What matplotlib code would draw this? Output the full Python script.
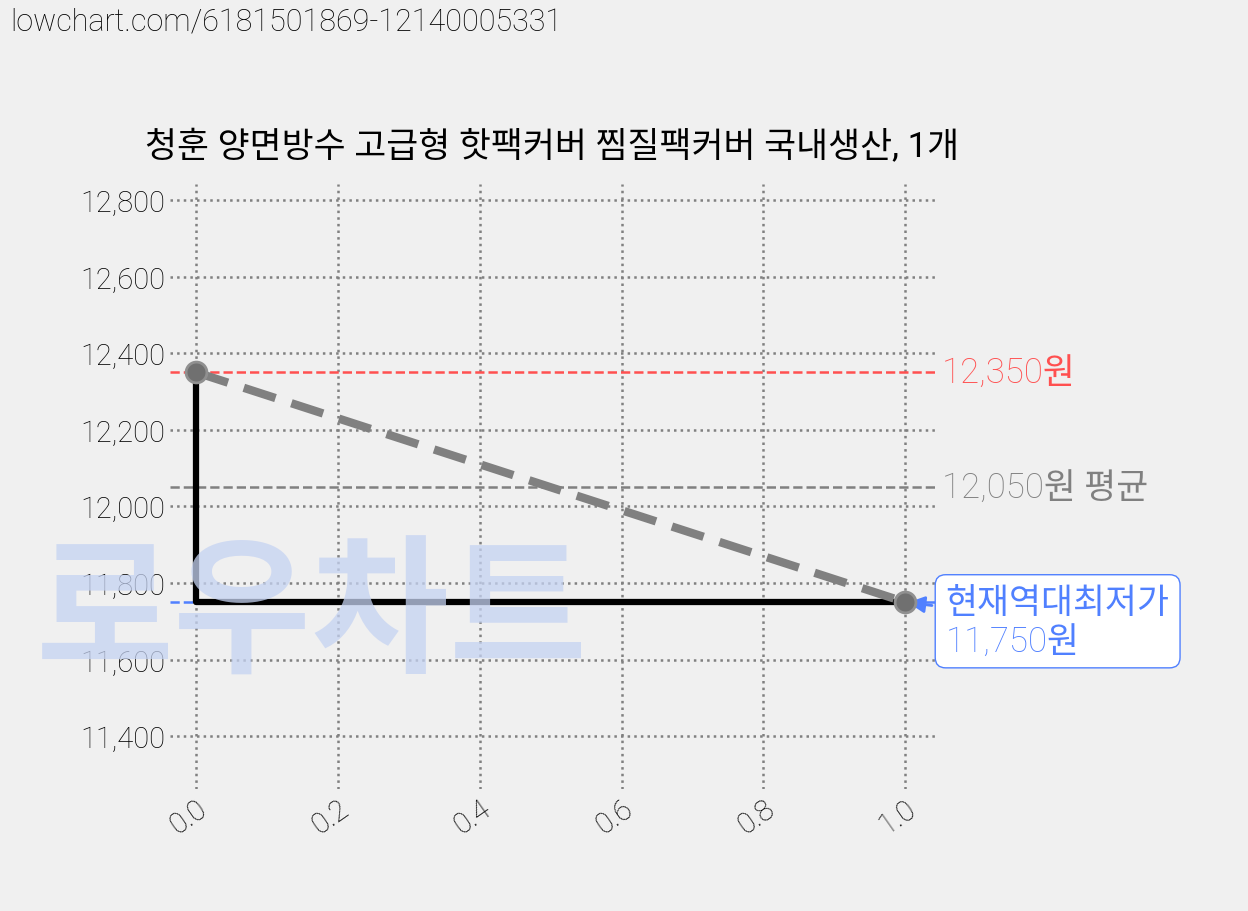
import matplotlib
matplotlib.use("Agg")
import matplotlib.pyplot as plt

plt.rcParams['font.family'] = ['Roboto', 'Noto Sans CJK KR', 'DejaVu Sans']

x = [0.0, 1.0]
prices = [12350, 11750]
step_x = [0.0, 0.0, 1.0]
step_y = [12350, 11750, 11750]
max_price = 12350
avg_price = 12050
min_price = 11750
title = "청훈 양면방수 고급형 핫팩커버 찜질팩커버 국내생산, 1개"
yticks = [11400, 11600, 11800, 12000, 12200, 12400, 12600, 12800]
xticks = [0.0, 0.2, 0.4, 0.6, 0.8, 1.0]

fig = plt.figure(figsize=(12.48, 9.12), dpi=100, facecolor='#f0f0f0')
ax = fig.add_axes([170/1248, 1-790/912, (935-170)/1248, (790-185)/912])
ax.set_facecolor('#f0f0f0')
ax.set_xlim(-0.037, 1.042)
ax.set_ylim(11262, 12842)

fig.text(0.008, 0.992, "lowchart.com/6181501869-12140005331", fontsize=22, va='top', ha='left', weight='light')
fig.text(0.25, 0.32, "로우차트", fontsize=108, color='#c5d3f2', alpha=0.75,
         ha='center', va='center', weight='bold', zorder=0)

ax.grid(True, linestyle=':', color='gray', linewidth=1.8)
for s in ax.spines.values():
    s.set_visible(False)
ax.tick_params(length=0, labelsize=21)
ax.set_yticks(yticks)
ax.set_yticklabels([f"{v:,}" for v in yticks], weight='light')
ax.set_xticks(xticks)
ax.set_xticklabels([f"{v:.1f}" for v in xticks], rotation=35, ha='right', rotation_mode='anchor', weight='light')

ax.plot(step_x, step_y, color='black', linewidth=4.5, zorder=3)
ax.plot(x, prices, color='gray', linestyle=(0, (4, 2)), linewidth=6, zorder=4,
        marker='o', markersize=15, markerfacecolor='#707070', markeredgecolor='#909090', markeredgewidth=2)

ax.axhline(max_price, color='#ff5050', linestyle='--', linewidth=1.8, zorder=2)
ax.axhline(avg_price, color='gray', linestyle='--', linewidth=1.8, zorder=2)
ax.axhline(min_price, color='#5080ff', linestyle='--', linewidth=1.8, zorder=2)

ax.text(1.052, max_price, f"{max_price:,}원", color='#ff5050', fontsize=25, va='center', clip_on=False, weight='light')
ax.text(1.052, avg_price, f"{avg_price:,}원 평균", color='gray', fontsize=25, va='center', clip_on=False, weight='light')
ax.annotate(f"현재역대최저가\n{min_price:,}원", xy=(1.0, min_price), xytext=(1.057, 11700),
            color='#5080ff', fontsize=25, va='center', ha='left', annotation_clip=False, weight='light',
            bbox=dict(boxstyle='round,pad=0.3', fc='white', ec='#5080ff'),
            arrowprops=dict(arrowstyle='-|>', color='#5080ff', lw=2))

ax.set_title(title, fontsize=25, pad=20)
fig.savefig("out.png", dpi=100, facecolor=fig.get_facecolor())
